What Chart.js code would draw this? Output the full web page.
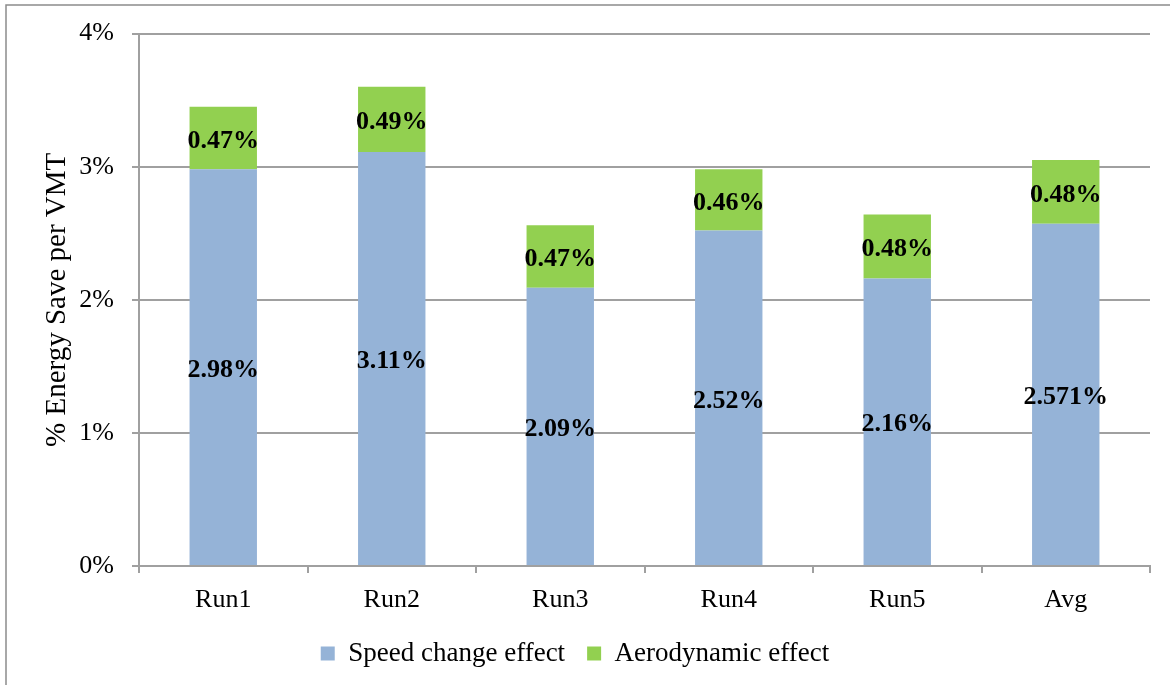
<!DOCTYPE html>
<html>
<head>
<meta charset="utf-8">
<script src="https://cdn.jsdelivr.net/npm/chart.js@4"></script>
<style>
  html, body { margin: 0; padding: 0; background: #fff; }
  #wrap { width: 1170px; height: 685px; position: relative; }
</style>
</head>
<body>
<div id="wrap"><canvas id="energyChart"></canvas></div>
<script>
const runs = ['Run1', 'Run2', 'Run3', 'Run4', 'Run5', 'Avg'];
const speedEffect = [2.98, 3.11, 2.09, 2.52, 2.16, 2.571];
const aeroEffect = [0.47, 0.49, 0.47, 0.46, 0.48, 0.48];
const speedLabels = ['2.98%', '3.11%', '2.09%', '2.52%', '2.16%', '2.571%'];
const aeroLabels = ['0.47%', '0.49%', '0.47%', '0.46%', '0.48%', '0.48%'];

const serif = "'Liberation Serif', 'Times New Roman', serif";
const gridGray = '#a0a0a0';

// labels centred inside each stacked segment
const segmentLabels = {
    id: 'segmentLabels',
    afterDatasetsDraw(chart) {
        const c = chart.ctx;
        c.save();
        c.font = 'bold 26px ' + serif;
        c.fillStyle = '#000';
        c.textAlign = 'center';
        c.textBaseline = 'middle';
        chart.data.datasets.forEach((ds, i) => {
            chart.getDatasetMeta(i).data.forEach((bar, j) => {
                const mid = (bar.y + bar.base) / 2 + 3;
                c.fillText(ds.valueLabels[j], bar.x, mid);
            });
        });
        c.restore();
    }
};

// outer frame of the chart object (left and top edge visible)
const frame = {
    id: 'frame',
    beforeDraw(chart) {
        const c = chart.ctx;
        c.save();
        c.strokeStyle = '#8c8c8c';
        c.lineWidth = 1.5;
        c.beginPath();
        c.moveTo(6, 690);
        c.lineTo(6, 5);
        c.lineTo(1175, 5);
        c.stroke();
        c.restore();
    }
};

const ctx = document.getElementById('energyChart').getContext('2d');

new Chart(ctx, {
    type: 'bar',
    data: {
        labels: runs,
        datasets: [{
            label: 'Speed change effect',
            data: speedEffect,
            valueLabels: speedLabels,
            backgroundColor: '#95b3d7',
            borderWidth: 0,
            barPercentage: 0.4,
            categoryPercentage: 1
        }, {
            label: 'Aerodynamic effect',
            data: aeroEffect,
            valueLabels: aeroLabels,
            backgroundColor: '#92d050',
            borderWidth: 0,
            barPercentage: 0.4,
            categoryPercentage: 1
        }]
    },
    options: {
        responsive: true,
        maintainAspectRatio: false,
        animation: false,
        layout: {
            padding: { top: 22, right: 20, left: 0, bottom: 8 }
        },
        plugins: {
            legend: {
                position: 'bottom',
                labels: {
                    boxWidth: 14,
                    boxHeight: 14,
                    padding: 22,
                    color: '#000',
                    font: { family: serif, size: 27 }
                }
            },
            tooltip: { enabled: false }
        },
        scales: {
            x: {
                stacked: true,
                grid: {
                    drawOnChartArea: false,
                    offset: true,
                    tickLength: 7,
                    color: gridGray,
                    lineWidth: 2
                },
                border: { color: gridGray, width: 2 },
                ticks: {
                    color: '#000',
                    padding: 12,
                    font: { family: serif, size: 26 }
                },
                afterFit(scale) { scale.height = 52; }
            },
            y: {
                stacked: true,
                min: 0,
                max: 4,
                ticks: {
                    stepSize: 1,
                    color: '#000',
                    padding: 18,
                    font: { family: serif, size: 26 },
                    callback: v => v + '%'
                },
                grid: {
                    color: gridGray,
                    lineWidth: 2,
                    tickLength: 7
                },
                border: { color: gridGray, width: 2 },
                title: {
                    display: true,
                    text: '% Energy Save per VMT',
                    color: '#000',
                    font: { family: serif, size: 29 },
                    padding: { top: 40, bottom: 0 }
                },
                afterFit(scale) { scale.width = 139; }
            }
        }
    },
    plugins: [segmentLabels, frame]
});
</script>
</body>
</html>
